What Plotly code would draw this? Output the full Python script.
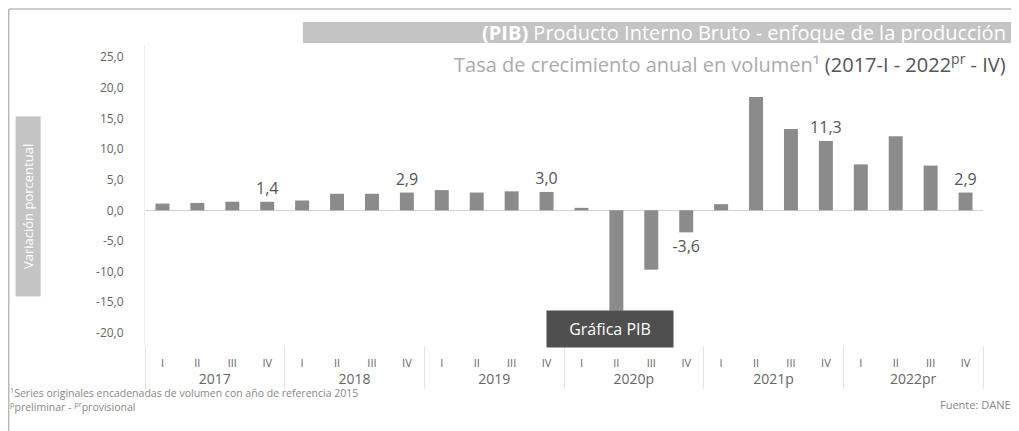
import plotly.graph_objects as go

# quarterly GDP growth, %
years = ["2017"] * 4 + ["2018"] * 4 + ["2019"] * 4 + ["2020p"] * 4 + ["2021p"] * 4 + ["2022pr"] * 4
quarters = ["I", "II", "III", "IV"] * 6
growth = [1.1, 1.2, 1.4, 1.4,
          1.6, 2.7, 2.7, 2.9,
          3.3, 2.9, 3.1, 3.0,
          0.4, -16.4, -9.7, -3.6,
          1.0, 18.5, 13.3, 11.3,
          7.5, 12.1, 7.3, 2.9]
labels = ["", "", "", "1,4",
          "", "", "", "2,9",
          "", "", "", "3,0",
          "", "", "", "-3,6",
          "", "", "", "11,3",
          "", "", "", "2,9"]
y_ticks = [-20, -15, -10, -5, 0, 5, 10, 15, 20, 25]
y_tick_text = ["-20,0", "-15,0", "-10,0", "-5,0", "0,0", "5,0", "10,0", "15,0", "20,0", "25,0"]

FONT = "Open Sans"

# two label rows: small quarter numerals, larger years
year_labels = [f"<span style='font-size:14px'>{y}</span>" for y in years]
quarter_labels = [f"<span style='font-size:11px'>{q}</span>" for q in quarters]

fig = go.Figure(
    go.Bar(
        x=[year_labels, quarter_labels],
        y=growth,
        text=labels,
        textposition="outside",
        constraintext="none",
        cliponaxis=False,
        textfont=dict(family=FONT, size=16, color="#555555"),
        marker=dict(color="#8b8b8b", line=dict(width=0)),
        width=0.4,
        hovertemplate="%{y}<extra></extra>",
    )
)

# the page adds an 8px body margin, so margins are set 8px short
fig.update_layout(
    width=1019,
    height=431,
    margin=dict(l=137, r=44, t=37, b=94),
    paper_bgcolor="white",
    plot_bgcolor="white",
    showlegend=False,
    font=dict(family=FONT, color="#666666"),
    yaxis=dict(
        range=[-22, 27],
        tickvals=y_ticks,
        ticktext=y_tick_text,
        tickfont=dict(size=12, color="#666666"),
        showgrid=False,
        zeroline=True,
        zerolinecolor="#d0d0d0",
        zerolinewidth=1,
        showline=True,
        linecolor="#ececec",
        ticks="",
        ticklabelstandoff=18,
    ),
    xaxis=dict(
        type="multicategory",
        tickfont=dict(size=21, color="#666666"),
        showdividers=True,
        dividercolor="#e3e3e3",
        dividerwidth=1,
        showgrid=False,
        ticks="",
        showline=False,
    ),
)

annotations = [
    dict(text="<b>(PIB)</b> Producto Interno Bruto - enfoque de la producción",
         x=1.030, y=1.042, xanchor="right", yanchor="middle",
         font=dict(size=20, color="white")),
    dict(text="Tasa de crecimiento anual en volumen¹ "
              "<span style='color:#555555'>(2017-I - 2022<sup>pr</sup> - IV)</span>",
         x=1.030, y=0.94, xanchor="right", yanchor="middle",
         font=dict(size=20, color="#ababab")),
    dict(text="Variación porcentual", textangle=-90,
         x=-0.139, y=0.462, xanchor="center", yanchor="middle",
         width=177, height=22, bgcolor="#c4c4c4",
         font=dict(size=13, color="white")),
    dict(text="Gráfica PIB", x=0.555, y=0.055, xanchor="center", yanchor="middle",
         width=124, height=34, bgcolor="#4f4f4f",
         font=dict(size=16, color="white")),
    dict(text="<sup>1</sup>Series originales encadenadas de volumen con año de referencia 2015"
              "<br><sup>p</sup>preliminar - <sup>pr</sup>provisional",
         x=-0.163, y=-0.18, xanchor="left", yanchor="middle", align="left",
         font=dict(size=10.5, color="#888888")),
    dict(text="Fuente: DANE",
         x=1.036, y=-0.197, xanchor="right", yanchor="middle",
         font=dict(size=11, color="#888888")),
]
for a in annotations:
    a.update(xref="paper", yref="paper", showarrow=False)

# grey band behind the title
fig.add_shape(type="rect", xref="paper", yref="paper",
              x0=0.1885, x1=1.038, y0=1.007, y1=1.077,
              fillcolor="#c4c4c4", line=dict(width=0), layer="below")
fig.update_layout(annotations=annotations)

# outer frame (top and left edges)
fig.add_shape(type="line", xref="paper", yref="paper",
              x0=-0.1625, x1=1.05, y0=1.12, y1=1.12,
              line=dict(color="#9a9a9a", width=1))
fig.add_shape(type="line", xref="paper", yref="paper",
              x0=-0.1625, x1=-0.1625, y0=1.12, y1=-0.32,
              line=dict(color="#9a9a9a", width=1))

fig.write_html("out.html")
